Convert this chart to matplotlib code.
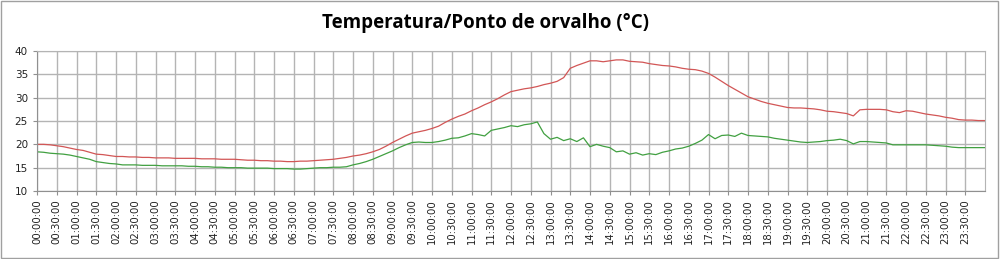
import numpy as np
import matplotlib
matplotlib.use("Agg")
import matplotlib.pyplot as plt
from matplotlib.patches import Rectangle

# temperatura a cada 10 minutos (00:00 ... 24:00)
temperatura = [
    20.0, 20.0, 19.9, 19.7, 19.5, 19.2,
    18.9, 18.7, 18.3, 17.9, 17.8, 17.6,
    17.4, 17.4, 17.3, 17.3, 17.2, 17.2,
    17.1, 17.1, 17.1, 17.0, 17.0, 17.0,
    17.0, 16.9, 16.9, 16.9, 16.8, 16.8,
    16.8, 16.7, 16.6, 16.6, 16.5, 16.5,
    16.4, 16.4, 16.3, 16.3, 16.4, 16.4,
    16.5, 16.6, 16.7, 16.8, 17.0, 17.2,
    17.5, 17.7, 18.0, 18.4, 18.9, 19.6,
    20.4, 21.1, 21.8, 22.4, 22.7, 23.0,
    23.4, 23.9, 24.7, 25.4, 26.0, 26.5,
    27.2, 27.8, 28.5, 29.1, 29.8, 30.6,
    31.3, 31.6, 31.9, 32.1, 32.4, 32.8,
    33.1, 33.5, 34.3, 36.3, 36.9, 37.4,
    37.9, 37.9, 37.7, 37.9, 38.1, 38.1,
    37.8, 37.7, 37.6, 37.3, 37.1, 36.9,
    36.8, 36.6, 36.3, 36.1, 36.0, 35.7,
    35.2, 34.4, 33.5, 32.6, 31.8, 31.0,
    30.2, 29.7, 29.2, 28.8, 28.5, 28.2,
    27.9, 27.8, 27.8, 27.7, 27.6, 27.4,
    27.1, 27.0, 26.8, 26.6, 26.1, 27.4,
    27.5, 27.5, 27.5, 27.4, 27.0, 26.8,
    27.2, 27.1, 26.8, 26.5, 26.3, 26.1,
    25.8, 25.6, 25.3, 25.2, 25.2, 25.1,
    25.1,
]

# ponto de orvalho a cada 10 minutos
orvalho = [
    18.4, 18.3, 18.1, 18.0, 17.9, 17.7,
    17.4, 17.1, 16.8, 16.3, 16.1, 15.9,
    15.8, 15.6, 15.6, 15.6, 15.5, 15.5,
    15.5, 15.4, 15.4, 15.4, 15.4, 15.3,
    15.3, 15.2, 15.2, 15.1, 15.1, 15.0,
    15.0, 15.0, 14.9, 14.9, 14.9, 14.9,
    14.8, 14.8, 14.8, 14.7, 14.7, 14.8,
    14.9, 15.0, 15.0, 15.1, 15.1, 15.2,
    15.6, 15.9, 16.3, 16.8, 17.4, 18.0,
    18.6, 19.3, 19.9, 20.4, 20.5, 20.4,
    20.4, 20.6, 20.9, 21.3, 21.4, 21.8,
    22.3, 22.1, 21.8, 23.0, 23.3, 23.6,
    24.0, 23.8, 24.2, 24.4, 24.8, 22.3,
    21.1, 21.5, 20.8, 21.2, 20.6, 21.4,
    19.5, 20.0, 19.6, 19.3, 18.4, 18.6,
    17.9, 18.2, 17.7, 18.0, 17.8, 18.3,
    18.6, 19.0, 19.2, 19.6, 20.2, 20.9,
    22.1, 21.2, 21.9, 22.0, 21.7, 22.4,
    21.9, 21.8, 21.7, 21.6, 21.3, 21.1,
    20.9, 20.7, 20.5, 20.4, 20.5, 20.6,
    20.8, 20.9, 21.1, 20.8, 20.1, 20.6,
    20.6, 20.5, 20.4, 20.3, 19.9, 19.9,
    19.9, 19.9, 19.9, 19.9, 19.8, 19.7,
    19.6, 19.4, 19.3, 19.3, 19.3, 19.3,
    19.3,
]

horas = np.arange(len(temperatura)) / 6.0
rotulos = ["%02d:%02d:00" % (m // 60, m % 60) for m in range(0, 24 * 60, 30)]

fig = plt.figure(figsize=(10, 2.59), dpi=100)
ax = fig.add_axes([0.037, 0.2625, 0.948, 0.5405])

ax.plot(horas, temperatura, color="#d25656", lw=0.9)
ax.plot(horas, orvalho, color="#41a041", lw=0.9)

ax.set_xlim(0, 24)
ax.set_ylim(10, 40)
ax.set_yticks(range(10, 41, 5))
ax.set_xticks(np.arange(0, 24, 0.5))
ax.set_xticklabels(rotulos, rotation=90, fontsize=7.3, color="#222222")
ax.tick_params(axis="y", labelsize=7.5, colors="#222222", length=3, color="#909090")
ax.tick_params(axis="x", length=3, color="#909090", pad=3)
ax.grid(True, color="#b4b4b4", lw=1)
ax.set_axisbelow(True)
for s in ax.spines.values():
    s.set_color("#b4b4b4")
ax.spines["left"].set_color("#909090")
ax.spines["bottom"].set_color("#909090")

fig.text(0.486, 0.91, "Temperatura/Ponto de orvalho (°C)", ha="center", va="center",
         fontsize=13.5, fontweight="bold", family="Open Sans")

# moldura do gráfico
fig.patches.append(Rectangle((0.001, 0.002), 0.997, 0.995, transform=fig.transFigure,
                             fill=False, edgecolor="#a0a0a0", lw=1))

fig.savefig("out.png", dpi=100)
